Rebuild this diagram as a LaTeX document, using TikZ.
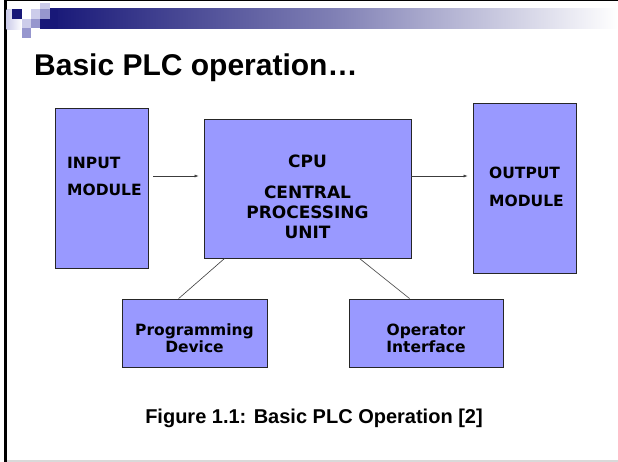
\documentclass[tikz,border=0pt]{standalone}
\usepackage{fontspec}
\setmainfont{Liberation Sans}
\newfontfamily\boxfont{DejaVu Sans}
\usetikzlibrary{arrows.meta}

\definecolor{boxfill}{RGB}{153,153,255}
\definecolor{navy}{RGB}{24,24,120}
\definecolor{palelav}{RGB}{204,204,234}
\definecolor{midlav}{RGB}{150,150,206}
\definecolor{wirecol}{RGB}{60,60,60}

\tikzset{
  blk/.style={draw=black!85, fill=boxfill, line width=0.8pt, inner sep=0pt},
  lbl/.style={inner sep=0pt, font=\boxfont\bfseries\fontsize{15.5}{18}\selectfont},
  cpulbl/.style={inner sep=0pt, font=\boxfont\bfseries\fontsize{17}{20}\selectfont},
  wire/.style={draw=wirecol, line width=0.6pt},
  arr/.style={wire, -{Latex[length=4pt,width=3pt]}},
}

\begin{document}
\begin{tikzpicture}[x=1pt,y=-1pt]
\useasboundingbox (0,0) rectangle (618,462);
\fill[white] (0,0) rectangle (618,462);

% slide frame
\fill[black] (4,0) rectangle (618,1.5);
\fill[black] (4,0) rectangle (6.5,462);
\fill[black!15] (6.5,460) rectangle (618,462);

% header ornament: squares and fading bar
\shade[left color=palelav, right color=white] (6.5,10) rectangle (22,30);
\shade[left color=navy, right color=white, middle color=navy!55!white] (50,9) rectangle (618,29);
\fill[navy] (12,9) rectangle (22,19);
\fill[palelav] (31,9) rectangle (40,19);
\fill[palelav] (40,3) rectangle (50,9);
\fill[midlav] (40,9) rectangle (50,19);
\fill[palelav] (22,19) rectangle (31,28);
\fill[midlav] (31,19) rectangle (40,28);
\fill[navy] (40,19) rectangle (50,29);
\fill[navy] (50,9) rectangle (58,29);
\fill[midlav] (22,28) rectangle (31,38);

% title
\node[anchor=base west, inner sep=0pt, font=\bfseries\fontsize{30}{35}\selectfont]
  (title) at (34,76) {Basic PLC operation…};

% blocks
\node[blk, minimum width=93pt, minimum height=160pt] (in) at (101.5,188) {};
\node[blk, minimum width=207pt, minimum height=139pt] (cpu) at (307.5,188.5) {};
\node[blk, minimum width=103pt, minimum height=170pt] (out) at (524.5,188) {};
\node[blk, minimum width=145pt, minimum height=68pt] (prog) at (194.5,333) {};
\node[blk, minimum width=154pt, minimum height=68pt] (op) at (426,333) {};

% block texts
\node[lbl, anchor=base west] (inA) at (67,169) {INPUT};
\node[lbl, anchor=base west] (inB) at (67,196) {MODULE};
\node[lbl, anchor=base west] (outA) at (489,179) {OUTPUT};
\node[lbl, anchor=base west] (outB) at (489,207) {MODULE};
\node[cpulbl, anchor=base] (cpuA) at (307.5,168) {CPU};
\node[cpulbl, anchor=base] (cpuB) at (307.5,199) {CENTRAL};
\node[cpulbl, anchor=base] (cpuC) at (307.5,219) {PROCESSING};
\node[cpulbl, anchor=base] (cpuD) at (307.5,239) {UNIT};
\node[lbl, anchor=base] (progA) at (194.5,335) {Programming};
\node[lbl, anchor=base] (progB) at (194.5,352) {Device};
\node[lbl, anchor=base] (opA) at (426,335) {Operator};
\node[lbl, anchor=base] (opB) at (426,352) {Interface};

% connectors
\draw[arr] ([xshift=5pt,yshift=12pt]in.east) -- ([xshift=-5pt,yshift=12.5pt]cpu.west);
\draw[arr] ([yshift=12.5pt]cpu.east) -- ([xshift=-5pt,yshift=12pt]out.west);
\draw[wire] ([xshift=21pt]cpu.south west) -- ([xshift=57pt]prog.north west);
\draw[wire] ([xshift=-52pt]cpu.south east) -- ([xshift=61pt]op.north west);

% caption
\node[anchor=base, inner sep=0pt, font=\bfseries\fontsize{20}{24}\selectfont]
  (cap) at (314,423) {Figure 1.1: Basic PLC Operation [2]};
\end{tikzpicture}
\end{document}
